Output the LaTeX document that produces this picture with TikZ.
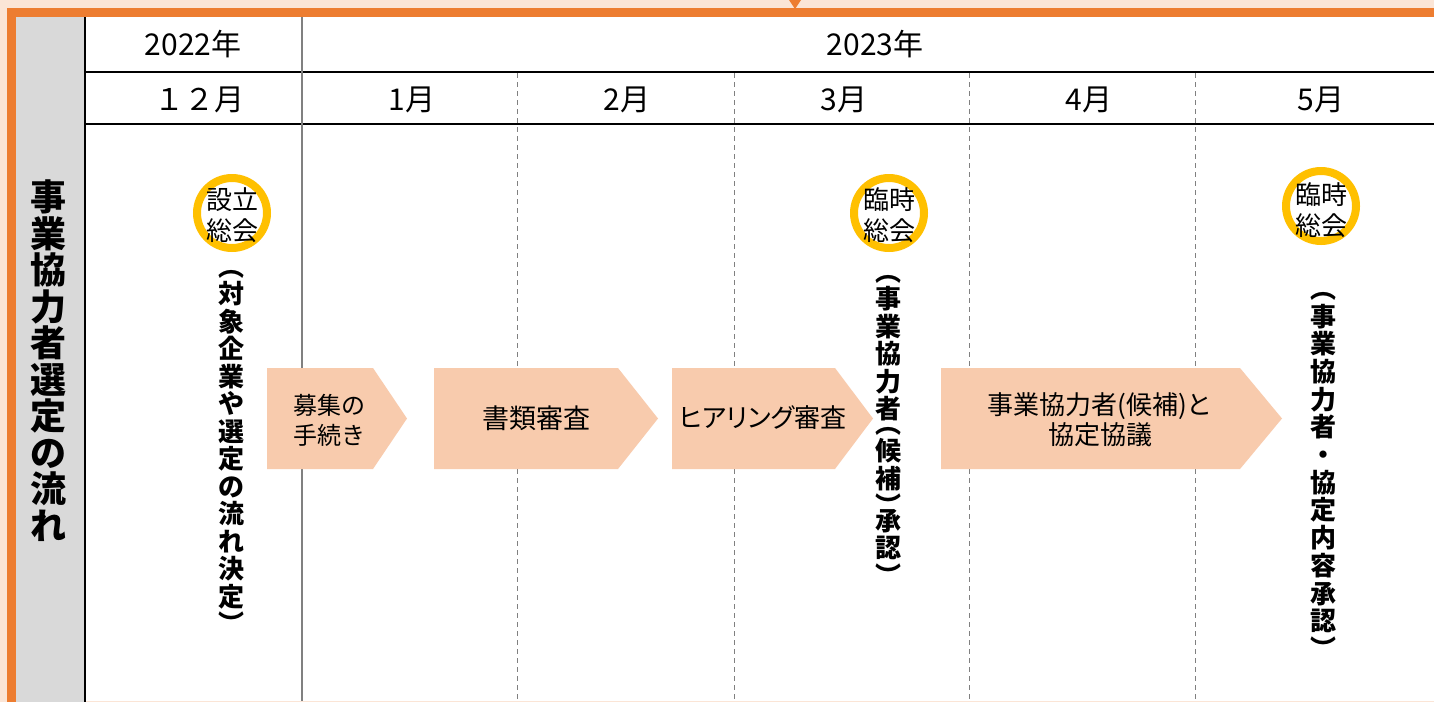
\documentclass[tikz,border=0pt]{standalone}
\usepackage{fontspec}
\setmainfont{Noto Sans CJK JP}
\definecolor{peach}{HTML}{FBE5D6}
\definecolor{frameorange}{HTML}{ED7D31}
\definecolor{colgray}{HTML}{D9D9D9}
\definecolor{arrowfill}{HTML}{F8CBAD}
\definecolor{ringyellow}{HTML}{FFC000}
\definecolor{linegray}{HTML}{808080}
\tikzset{
  hdr/.style={font=\fontsize{30}{32}\selectfont, inner sep=0pt},
  lbl/.style={font=\fontsize{26}{30}\selectfont, align=center, inner sep=0pt},
  vt/.style={font=\bfseries\fontsize{26}{27.5}\selectfont, align=center, inner sep=0pt, anchor=north},
  ttl/.style={font=\bfseries\fontsize{36}{36.5}\selectfont, align=center, inner sep=0pt, anchor=north},
  ring/.style={draw=ringyellow, line width=8pt},
  ringtext/.style={font=\fontsize{26}{31}\selectfont, align=center, inner sep=0pt},
  stepshape/.style={fill=arrowfill},
  dashv/.style={draw=linegray, line width=1pt, dash pattern=on 5pt off 4pt},
  solidv/.style={draw=linegray, line width=2pt},
  gridline/.style={draw=black, line width=2pt},
}
\begin{document}
\begin{tikzpicture}[x=1pt,y=-1pt]
\useasboundingbox (0,0) rectangle (1434,702);
% background and frame
\fill[peach] (0,0) rectangle (1434,702);
\fill[frameorange] (7,8) rectangle (1434,17);
\fill[frameorange] (7,8) rectangle (16,702);
\fill[colgray] (16,17) rectangle (85,702);
\fill[white] (85,17) rectangle (1434,701);
\fill[frameorange] (789,0) -- (801,0) -- (795,9) -- cycle;
% grid
\draw[gridline] (85,17) -- (85,702);
\draw[gridline] (85,72) -- (1434,72);
\draw[gridline] (85,124) -- (1434,124);
\draw[solidv] (302,17) -- (302,701);
\foreach \xx in {517,734,969,1195} \draw[dashv] (\xx,73) -- (\xx,701);
% headers
\node[hdr] (y2022) at (193,44) {2022年};
\node[hdr] (y2023) at (875,44) {2023年};
\node[hdr] (m12) at (199,100) {１２月};
\node[hdr] (m1) at (412,100) {1月};
\node[hdr] (m2) at (627,100) {2月};
\node[hdr] (m3) at (844,100) {3月};
\node[hdr] (m4) at (1089,100) {4月};
\node[hdr] (m5) at (1321,100) {5月};
% title
\node[ttl] (title) at (48,180) {事\\業\\協\\力\\者\\選\\定\\の\\流\\れ};
% arrows
\fill[stepshape] (267,368) -- (373,368) -- (407,418.5) -- (373,469) -- (267,469) -- cycle;
\fill[stepshape] (434,368) -- (618,368) -- (658,418.5) -- (618,469) -- (434,469) -- cycle;
\fill[stepshape] (672,368) -- (835,368) -- (873,418.5) -- (835,469) -- (672,469) -- cycle;
\fill[stepshape] (941,368) -- (1240,368) -- (1282,418.5) -- (1240,469) -- (941,469) -- cycle;
\node[lbl, font=\fontsize{24}{30}\selectfont] (s1) at (329,420) {募集の\\手続き};
\node[lbl, font=\fontsize{27}{30}\selectfont] (s2) at (536,418) {書類審査};
\node[lbl] (s3) at (763,418) {\addfontfeature{RawFeature=+palt}ヒアリング審査};
\node[lbl] (s4) at (1100,420) {事業協力者(候補)と\\協定協議};
% rings
\draw[ring] (232,213) circle (35);
\node[ringtext] (r1) at (232,215) {設立\\総会};
\draw[ring] (889,213) circle (35);
\node[ringtext] (r2) at (889,215) {臨時\\総会};
\draw[ring] (1321,206) circle (35);
\node[ringtext] (r3) at (1321,210) {臨時\\総会};
% vertical texts
\node[vt] (v1) at (231,270) {︵\\対\\象\\企\\業\\や\\選\\定\\の\\流\\れ\\決\\定\\︶};
\node[vt] (v2) at (888,275) {︵\\事\\業\\協\\力\\者\\[-13pt]︵\\候\\補\\︶\\[-13pt]承\\認\\︶};
\node[vt, font=\bfseries\fontsize{26}{27.7}\selectfont] (v3) at (1323,292) {︵\\事\\業\\協\\力\\者\\・\\協\\定\\内\\容\\承\\認\\︶};
\end{tikzpicture}
\end{document}
